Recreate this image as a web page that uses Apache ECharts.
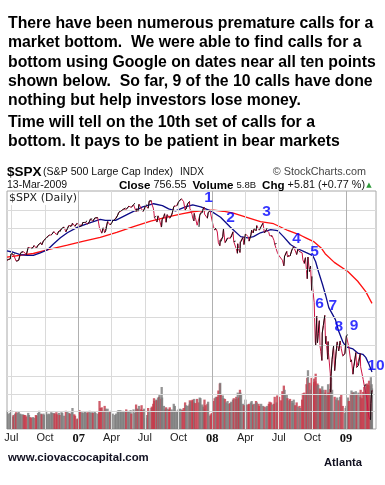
<!DOCTYPE html>
<html><head><meta charset="utf-8">
<script src="https://cdn.jsdelivr.net/npm/echarts@6/dist/echarts.min.js"></script>
<style>html,body{margin:0;padding:0;background:#fff}#c{width:385px;height:485px}</style>
</head><body><div id="c"></div>
<script>
// ---- data ----
const priceDates = [
'2006-06-19','2006-06-23','2006-06-28','2006-06-30',
'2006-07-05','2006-07-07','2006-07-11','2006-07-14','2006-07-18','2006-07-21','2006-07-25','2006-07-28',
'2006-08-02','2006-08-04','2006-08-08','2006-08-11','2006-08-16','2006-08-18','2006-08-22','2006-08-25','2006-08-29',
'2006-09-01','2006-09-06','2006-09-08','2006-09-12','2006-09-15','2006-09-20','2006-09-22','2006-09-27','2006-09-29',
'2006-10-04','2006-10-06','2006-10-11','2006-10-13','2006-10-18','2006-10-20','2006-10-25','2006-10-27',
'2006-11-01','2006-11-03','2006-11-08','2006-11-10','2006-11-15','2006-11-17','2006-11-22','2006-11-27',
'2006-12-01','2006-12-05','2006-12-08','2006-12-13','2006-12-15','2006-12-20','2006-12-22','2006-12-27','2006-12-29',
'2007-01-03','2007-01-05','2007-01-10','2007-01-12','2007-01-17','2007-01-19','2007-01-24','2007-01-26','2007-01-31',
'2007-02-02','2007-02-07','2007-02-09','2007-02-14','2007-02-16','2007-02-22','2007-02-26','2007-02-27',
'2007-03-02','2007-03-05','2007-03-09','2007-03-13','2007-03-16','2007-03-21','2007-03-23','2007-03-28','2007-03-30',
'2007-04-04','2007-04-10','2007-04-13','2007-04-18','2007-04-20','2007-04-25','2007-04-27',
'2007-05-02','2007-05-04','2007-05-09','2007-05-11','2007-05-16','2007-05-18','2007-05-23','2007-05-25','2007-05-31',
'2007-06-04','2007-06-07','2007-06-08','2007-06-12','2007-06-15','2007-06-20','2007-06-22','2007-06-26','2007-06-29',
'2007-07-03','2007-07-06','2007-07-10','2007-07-13','2007-07-19','2007-07-20','2007-07-24','2007-07-26','2007-07-27',
'2007-08-01','2007-08-03','2007-08-06','2007-08-09','2007-08-10','2007-08-15','2007-08-16','2007-08-17','2007-08-22','2007-08-24','2007-08-28','2007-08-31',
'2007-09-05','2007-09-07','2007-09-12','2007-09-14','2007-09-18','2007-09-21','2007-09-26','2007-09-28',
'2007-10-01','2007-10-05','2007-10-09','2007-10-12','2007-10-15','2007-10-19','2007-10-22','2007-10-26','2007-10-31',
'2007-11-01','2007-11-02','2007-11-07','2007-11-09','2007-11-12','2007-11-13','2007-11-16','2007-11-21','2007-11-26','2007-11-28','2007-11-30',
'2007-12-05','2007-12-07','2007-12-10','2007-12-11','2007-12-14','2007-12-19','2007-12-21','2007-12-26','2007-12-28','2007-12-31',
'2008-01-04','2008-01-08','2008-01-11','2008-01-15','2008-01-18','2008-01-22','2008-01-23','2008-01-25','2008-01-30',
'2008-02-01','2008-02-05','2008-02-08','2008-02-12','2008-02-15','2008-02-19','2008-02-22','2008-02-27','2008-02-29',
'2008-03-05','2008-03-07','2008-03-10','2008-03-11','2008-03-14','2008-03-17','2008-03-18','2008-03-20','2008-03-25','2008-03-28',
'2008-04-01','2008-04-04','2008-04-09','2008-04-11','2008-04-16','2008-04-18','2008-04-22','2008-04-25','2008-04-30',
'2008-05-02','2008-05-07','2008-05-09','2008-05-14','2008-05-19','2008-05-23','2008-05-28','2008-05-30',
'2008-06-04','2008-06-06','2008-06-10','2008-06-13','2008-06-18','2008-06-20','2008-06-25','2008-06-27',
'2008-07-02','2008-07-07','2008-07-11','2008-07-15','2008-07-17','2008-07-18','2008-07-23','2008-07-25','2008-07-29',
'2008-08-01','2008-08-06','2008-08-08','2008-08-11','2008-08-15','2008-08-19','2008-08-22','2008-08-27','2008-08-29',
'2008-09-03','2008-09-05','2008-09-09','2008-09-12','2008-09-15','2008-09-17','2008-09-19','2008-09-23','2008-09-26','2008-09-29','2008-09-30',
'2008-10-02','2008-10-03','2008-10-06','2008-10-09','2008-10-10','2008-10-13','2008-10-15','2008-10-17','2008-10-20','2008-10-22','2008-10-24','2008-10-27','2008-10-28','2008-10-31',
'2008-11-04','2008-11-06','2008-11-07','2008-11-12','2008-11-13','2008-11-14','2008-11-19','2008-11-20','2008-11-21','2008-11-24','2008-11-28',
'2008-12-01','2008-12-05','2008-12-08','2008-12-12','2008-12-16','2008-12-19','2008-12-23','2008-12-29','2008-12-31',
'2009-01-02','2009-01-06','2009-01-09','2009-01-14','2009-01-16','2009-01-20','2009-01-22','2009-01-23','2009-01-28','2009-01-30',
'2009-02-04','2009-02-09','2009-02-10','2009-02-13','2009-02-17','2009-02-20','2009-02-24','2009-02-27',
'2009-03-02','2009-03-05','2009-03-09','2009-03-10','2009-03-12','2009-03-13'
];
const priceClose = [
1240,1244,1246,1270,
1271,1265,1273,1236,1237,1240,1268,1278,
1281,1280,1271,1266,1302,1302,1298,1296,1301,
1311,1300,1299,1313,1319,1325,1314,1336,1336,
1350,1350,1362,1365,1365,1368,1382,1377,
1367,1364,1385,1380,1396,1401,1406,1381,
1397,1414,1409,1413,1427,1423,1410,1426,1418,
1417,1409,1415,1430,1431,1431,1440,1422,1438,
1449,1450,1438,1455,1456,1457,1450,1400,
1387,1374,1402,1377,1386,1435,1437,1417,1421,
1438,1448,1452,1472,1484,1495,1495,
1502,1505,1512,1505,1514,1522,1522,1515,1531,
1539,1491,1507,1493,1533,1512,1503,1492,1503,
1524,1530,1510,1552,1553,1534,1511,1482,1458,
1465,1433,1467,1453,1453,1406,1411,1445,1464,1479,1432,1474,
1472,1454,1471,1484,1519,1525,1525,1527,
1547,1557,1565,1561,1548,1500,1506,1536,1549,
1509,1509,1475,1453,1439,1481,1458,1416,1407,1469,1481,
1485,1504,1516,1477,1468,1454,1484,1497,1478,1468,
1411,1390,1401,1380,1325,1310,1338,1331,1355,
1396,1326,1331,1349,1349,1348,1353,1381,1331,
1333,1294,1273,1320,1288,1277,1330,1330,1352,1316,
1370,1370,1355,1333,1365,1390,1375,1398,1386,
1414,1393,1389,1409,1427,1375,1391,1400,
1377,1361,1358,1360,1337,1318,1321,1278,
1261,1252,1240,1214,1260,1261,1282,1257,1263,
1260,1289,1296,1305,1298,1267,1292,1281,1283,
1275,1242,1225,1252,1193,1156,1255,1188,1213,1106,1166,
1114,1099,1056,910,899,1003,907,940,986,896,877,848,941,968,
1006,904,930,852,911,873,807,752,800,852,896,
816,876,910,879,913,887,863,870,903,
931,935,890,843,850,805,828,832,874,826,
832,870,828,827,789,770,773,735,
700,683,677,720,751,757
];
const volumeB = [
2.6,2.2,2.3,2.7,
1.8,2.0,2.2,2.4,2.3,2.5,2.2,2.1,
2.1,2.0,2.0,1.8,2.3,2.0,1.7,1.6,1.7,
1.6,2.0,1.9,2.3,2.6,2.2,2.1,2.2,2.0,
2.6,2.1,2.2,2.1,2.4,2.3,2.3,2.2,
2.4,2.1,2.3,2.0,2.4,2.3,1.9,2.6,
2.5,2.3,2.2,2.4,3.0,2.1,1.9,1.4,1.5,
2.7,2.5,2.4,2.3,2.4,2.5,2.3,2.4,2.6,
2.3,2.4,2.3,2.5,2.3,2.2,2.4,4.0,
3.0,3.1,2.6,3.3,2.9,2.9,2.4,2.5,2.6,
2.2,2.0,2.2,2.6,2.7,2.7,2.5,
2.6,2.4,2.5,2.8,2.6,2.5,2.7,2.2,2.8,
2.3,3.5,2.9,2.9,3.3,2.8,3.4,2.7,2.9,
1.6,2.0,3.0,2.6,3.0,3.2,3.6,4.4,4.0,
4.2,4.1,4.5,4.6,5.0,4.3,6.0,4.5,3.3,2.8,3.1,2.9,
2.8,3.1,2.8,2.6,3.6,3.3,2.6,2.5,
2.8,2.9,2.8,2.7,3.0,3.8,3.4,3.3,3.5,
4.1,3.9,4.1,4.2,3.8,4.3,3.7,4.3,3.8,4.5,4.4,
3.5,3.2,2.9,4.2,3.4,3.6,3.9,1.9,2.1,2.3,
4.0,4.4,4.6,4.6,5.5,6.5,6.6,5.0,4.8,
4.4,4.3,3.8,4.0,3.6,3.7,3.9,4.2,4.4,
4.3,4.6,4.3,5.2,4.5,5.6,5.2,5.0,3.6,3.4,
4.2,3.5,3.5,3.6,3.8,4.0,3.5,3.6,4.0,
3.8,3.6,3.3,3.6,3.3,3.2,3.1,3.3,
3.6,3.9,3.8,3.5,3.6,4.6,3.8,4.8,
4.6,4.1,5.4,6.2,5.6,4.9,4.9,4.4,4.1,
4.3,4.0,3.7,4.2,3.4,3.8,3.2,3.3,3.0,
4.2,5.1,5.2,5.0,6.4,7.3,8.4,6.6,5.6,7.3,6.2,
6.4,6.7,7.2,6.8,7.9,6.2,6.5,6.3,5.1,5.8,5.6,5.4,6.1,5.6,
5.2,5.6,4.8,4.8,6.4,5.2,5.7,6.5,7.3,5.6,2.6,
4.6,4.2,4.5,4.1,4.6,5.0,3.3,2.3,3.0,
3.3,4.5,4.0,4.9,5.5,5.2,5.3,5.1,5.4,4.9,
5.2,4.6,5.6,4.4,5.3,6.0,6.4,6.5,
6.3,6.9,6.2,7.4,6.4,5.8
];
const ma50Dates = ['2006-06-19','2006-07-06','2006-07-25','2006-08-13','2006-08-30','2006-09-18','2006-10-07','2006-10-24','2006-11-12','2006-12-01','2006-12-28','2007-01-25','2007-03-01','2007-03-15','2007-04-12','2007-05-17','2007-06-25','2007-07-25','2007-08-18','2007-09-04','2007-09-23','2007-10-20','2007-11-09','2007-12-01','2007-12-28','2008-01-24','2008-02-20','2008-03-19','2008-04-07','2008-04-23','2008-05-12','2008-06-09','2008-06-28','2008-07-14','2008-08-02','2008-08-16','2008-09-13','2008-10-02','2008-10-10','2008-10-18','2008-10-29','2008-11-06','2008-11-15','2008-11-20','2008-12-03','2008-12-12','2008-12-23','2009-01-01','2009-01-20','2009-02-02','2009-02-16','2009-02-24','2009-03-05','2009-03-13'];
const ma50Values = [1285,1278,1267,1263,1263,1275,1289,1319,1350,1376,1404,1425,1448,1442,1442,1478,1518,1536,1525,1506,1495,1518,1530,1518,1495,1459,1405,1356,1350,1356,1376,1393,1387,1356,1316,1300,1277,1262,1233,1186,1130,1087,1036,1030,990,947,911,893,886,872,868,858,835,812];
const ma200Dates = ['2006-06-19','2006-08-30','2006-10-15','2006-12-01','2007-01-15','2007-03-01','2007-04-15','2007-05-31','2007-07-17','2007-09-02','2007-10-13','2007-11-09','2007-12-06','2008-01-04','2008-01-31','2008-02-28','2008-04-07','2008-05-12','2008-06-17','2008-07-26','2008-08-31','2008-09-13','2008-10-06','2008-10-25','2008-11-05','2008-11-30','2009-01-06','2009-02-02','2009-02-24','2009-03-13'];
const ma200Values = [1255,1272,1293,1313,1333,1352,1378,1408,1438,1461,1480,1490,1497,1499,1493,1482,1457,1435,1424,1388,1362,1350,1329,1299,1271,1230,1188,1145,1101,1053];
const callDates = ['2007-12-22','2008-02-20','2008-05-29','2008-08-19','2008-10-07','2008-10-21','2008-11-26','2008-12-12','2009-01-23','2009-03-24'];
const callLevels = [1570,1455,1489,1344,1280,1050,1042,962,966,830];
const callLabels = ['1','2','3','4','5','6','7','8','9','10'];
const tickDates = ['2006-07-01','2006-10-01','2007-01-01','2007-04-01','2007-07-01','2007-10-01','2008-01-01','2008-04-01','2008-07-01','2008-10-01','2009-01-01'];
const tickLabels = ['Jul','Oct','07','Apr','Jul','Oct','08','Apr','Jul','Oct','09'];
const priceGrid = [700,800,900,1000,1100,1200,1300,1400,1500];
const volumeGrid = [2.5,5];

// ---- build ----
const t = s => new Date(s + 'T00:00:00').getTime();
const priceData = priceDates.map((d,i)=>[t(d), priceClose[i]]);
const upData = [];
for (let i=1;i<priceClose.length;i++){
  if (priceClose[i] > priceClose[i-1]) {
    upData.push([t(priceDates[i-1]), priceClose[i-1]]);
    upData.push([t(priceDates[i]), priceClose[i]]);
    upData.push([t(priceDates[i]), null]);
  }
}
const volData = volumeB.map((v,i)=>({
  value:[t(priceDates[i]), v],
  itemStyle:{color: (i>0 && priceClose[i] < priceClose[i-1]) ? 'rgba(196,58,74,0.82)' : 'rgba(125,125,125,0.82)'}
}));
const tickTimes = tickDates.map(t);
const labelMap = {}; tickTimes.forEach((v,i)=>labelMap[v]=tickLabels[i]);
const gridLines = [];
priceGrid.forEach(v=>gridLines.push({yAxis:v, lineStyle:{color:'#dadada'}}));
tickLabels.forEach((l,i)=>gridLines.push({xAxis:tickTimes[i], lineStyle:{color: /^\d+$/.test(l) ? '#b0b0b0' : '#dadada'}}));

const chart = echarts.init(document.getElementById('c'), null, {renderer:'canvas'});
const F = 'Liberation Sans, Arial, sans-serif';
const titleLines = [
 ['There have been numerous premature calls for a', 23.8],
 ['market bottom.  We were able to find calls for a', 43.1],
 ['bottom using Google on dates near all ten points', 62.4],
 ['shown below.  So far, 9 of the 10 calls have done', 81.7],
 ['nothing but help investors lose money.', 101.0],
 ['Time will tell on the 10th set of calls for a', 122.8],
 ['bottom. It pays to be patient in bear markets', 142.0]
];
const graphics = titleLines.map(([txt,y])=>({type:'text', x:8, y:y, style:{text:txt, fontFamily:F, fontWeight:'bold', fontSize:15.8, fill:'#000', verticalAlign:'middle'}}));
graphics.push(
 {type:'text', x:7, y:172, style:{text:'$SPX', fontFamily:F, fontWeight:'bold', fontSize:13.5, fill:'#000', verticalAlign:'middle'}},
 {type:'text', x:43, y:172.5, style:{text:'(S&P 500 Large Cap Index)', fontFamily:F, fontSize:10.6, fill:'#111', verticalAlign:'middle'}},
 {type:'text', x:180, y:172.5, style:{text:'INDX', fontFamily:F, fontSize:10, fill:'#111', verticalAlign:'middle'}},
 {type:'text', x:366, y:172.5, style:{text:'\u00A9 StockCharts.com', fontFamily:F, fontSize:10.8, fill:'#444', align:'right', verticalAlign:'middle'}},
 {type:'text', x:7, y:185.5, style:{text:'13-Mar-2009', fontFamily:F, fontSize:10.5, fill:'#111', verticalAlign:'middle'}},
 {type:'text', x:365, y:185.5, style:{text:'{b|Close} 756.55  {b|Volume} {s|5.8B}  {b|Chg} +5.81 (+0.77 %)', fontFamily:F, fontSize:10.8, fill:'#111', align:'right', verticalAlign:'middle',
    rich:{b:{fontFamily:F, fontWeight:'bold', fontSize:11.6, fill:'#000'}, s:{fontFamily:F, fontSize:9.5, fill:'#111'}}}},
 {type:'text', x:369, y:185, style:{text:'\u25B2', fontFamily:'DejaVu Sans', fontSize:7, fill:'#2e9a3a', align:'center', verticalAlign:'middle'}},
 {type:'text', x:8, y:458, style:{text:'www.ciovaccocapital.com', fontFamily:F, fontWeight:'bold', fontSize:11.4, fill:'#101020', verticalAlign:'middle'}},
 {type:'text', x:324, y:463, style:{text:'Atlanta', fontFamily:F, fontWeight:'bold', fontSize:11.2, fill:'#101020', verticalAlign:'middle'}},
 {type:'text', x:8, y:198.5, z:100, style:{text:'$SPX (Daily)', fontFamily:'DejaVu Sans', fontSize:11, fill:'#222', verticalAlign:'middle', backgroundColor:'#fff', padding:[1,1]}}
);

chart.setOption({
  animation:false,
  backgroundColor:'#fff',
  grid:{left:7, right:9, top:191, bottom:56, show:true, borderColor:'#a8a8a8', borderWidth:1, backgroundColor:'#fff'},
  xAxis:{type:'value', min:t('2006-06-19'), max:t('2009-03-24'), scale:true,
    axisLine:{show:false}, axisTick:{show:false}, splitLine:{show:false},
    axisLabel:{customValues:tickTimes, hideOverlap:false, margin:3, color:'#222', fontFamily:F, fontSize:11,
      formatter:(v)=>{const l=labelMap[v]||''; return /^\d+$/.test(l) ? '{y|'+l+'}' : l;},
      rich:{y:{fontFamily:'Liberation Serif', fontWeight:'bold', fontSize:12.5, color:'#111'}}}},
  yAxis:[
    {type:'log', logBase:10, min:654, max:1612, axisLine:{show:false}, axisTick:{show:false}, axisLabel:{show:false}, splitLine:{show:false}},
    {type:'value', min:0, max:34, axisLine:{show:false}, axisTick:{show:false}, axisLabel:{show:false}, splitLine:{show:false}}
  ],
  graphic:graphics,
  series:[
    {type:'line', z:1, data:[[t('2006-06-19'),1000]], symbol:'none', lineStyle:{opacity:0}, silent:true,
     markLine:{silent:true, symbol:'none', label:{show:false}, lineStyle:{type:'solid', width:1}, data:gridLines}},
    {type:'bar', z:2, yAxisIndex:1, data:volData, barWidth:2.3, barGap:'-100%', silent:true,
     markLine:{silent:true, symbol:'none', label:{show:false}, lineStyle:{type:'solid', width:1, color:'#dadada'}, data:volumeGrid.map(v=>({yAxis:v}))}},
    {type:'line', z:3, data:ma200Dates.map((d,i)=>[t(d), ma200Values[i]]), symbol:'none', lineStyle:{color:'#ff1010', width:1.3}, silent:true},
    {type:'line', z:3, data:ma50Dates.map((d,i)=>[t(d), ma50Values[i]]), symbol:'none', lineStyle:{color:'#0c0c88', width:1.3}, silent:true},
    {type:'line', z:4, data:priceData, symbol:'none', lineStyle:{color:'#cc1444', width:1}, silent:true},
    {type:'line', z:5, data:upData, symbol:'none', connectNulls:false, lineStyle:{color:'#111', width:1}, silent:true},
    {type:'scatter', z:6, clip:false, data:callDates.map((d,i)=>[t(d), callLevels[i]]), symbolSize:0, silent:true,
     label:{show:true, position:'inside', formatter:(p)=>callLabels[p.dataIndex], fontFamily:F, fontWeight:'bold', fontSize:15.5, color:'#0000ff', textBorderWidth:0, textBorderColor:'transparent'}}
  ]
});
</script></body></html>
